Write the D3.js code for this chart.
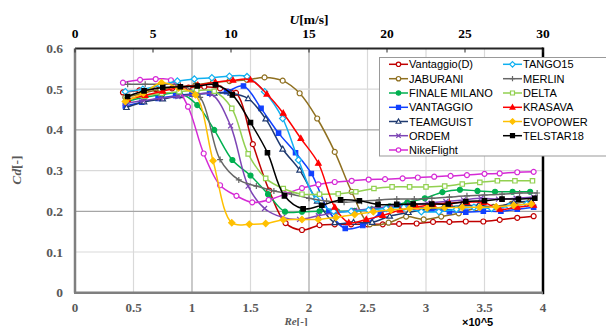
<!DOCTYPE html>
<html><head><meta charset="utf-8">
<script src="https://cdn.jsdelivr.net/npm/d3@7"></script>
<style>html,body{margin:0;padding:0;background:#fff;overflow:hidden}</style>
</head><body>
<svg id="c" width="606" height="326"></svg>
<script>
// ---- data (Re in 1e5, Cd) ----
const seriesNames = ["Vantaggio(D)","JABURANI","FINALE MILANO","VANTAGGIO","TEAMGUIST","ORDEM","NikeFlight","TANGO15","MERLIN","DELTA","KRASAVA","EVOPOWER","TELSTAR18"];
const reTicks = [0,0.5,1,1.5,2,2.5,3,3.5,4];
const cdTicks = [0,0.1,0.2,0.3,0.4,0.5,0.6];
const uTicks = [0,5,10,15,20,25,30];

const vantaggioD_re = [0.41,0.55,0.69,0.83,0.97,1.105,1.24,1.376,1.52,1.66,1.80,1.94,2.09,2.22,2.36,2.50,2.63,2.77,2.92,3.06,3.20,3.34,3.49,3.63,3.78,3.92];
const vantaggioD_cd = [0.492,0.497,0.500,0.502,0.504,0.506,0.502,0.491,0.365,0.251,0.171,0.154,0.166,0.168,0.168,0.168,0.168,0.169,0.170,0.174,0.174,0.175,0.175,0.179,0.184,0.188];

const jaburani_re = [0.43,0.58,0.73,0.88,1.03,1.18,1.32,1.47,1.62,1.775,1.92,2.07,2.22,2.365,2.52,2.68,2.83,2.98,3.13,3.28,3.43,3.575,3.73,3.89];
const jaburani_cd = [0.480,0.490,0.500,0.505,0.510,0.517,0.520,0.523,0.529,0.521,0.490,0.428,0.346,0.248,0.168,0.172,0.187,0.180,0.187,0.195,0.208,0.211,0.218,0.225];

const finale_re = [0.445,0.595,0.745,0.895,1.045,1.19,1.345,1.50,1.65,1.795,1.94,2.09,2.24,2.39,2.54,2.69,2.84,2.99,3.14,3.29,3.44,3.59,3.74,3.89];
const finale_cd = [0.470,0.480,0.487,0.490,0.461,0.400,0.326,0.288,0.242,0.199,0.199,0.200,0.200,0.201,0.205,0.212,0.222,0.232,0.247,0.253,0.250,0.248,0.248,0.248];

const vantaggio_re = [0.43,0.57,0.71,0.86,1.00,1.15,1.295,1.44,1.59,1.74,1.885,2.02,2.17,2.31,2.46,2.61,2.76,2.90,3.05,3.20,3.34,3.49,3.64,3.78,3.92];
const vantaggio_cd = [0.459,0.468,0.477,0.484,0.488,0.490,0.494,0.508,0.453,0.392,0.344,0.293,0.200,0.158,0.165,0.195,0.215,0.213,0.205,0.199,0.198,0.200,0.200,0.205,0.210];

const teamguist_re = [0.44,0.59,0.75,0.90,1.04,1.19,1.33,1.48,1.63,1.775,1.92,2.07,2.22,2.38,2.54,2.69,2.85,3.00,3.15,3.30,3.45,3.60,3.75,3.90];
const teamguist_cd = [0.455,0.469,0.476,0.484,0.488,0.490,0.490,0.477,0.427,0.353,0.301,0.225,0.172,0.173,0.173,0.188,0.197,0.205,0.210,0.213,0.215,0.210,0.222,0.225];

const ordem_re = [0.43,0.58,0.73,0.88,1.02,1.17,1.33,1.48,1.62,1.775,1.92,2.08,2.24,2.39,2.55,2.70,2.86,3.01,3.17,3.32,3.47,3.62,3.77,3.92];
const ordem_cd = [0.465,0.472,0.478,0.482,0.487,0.487,0.410,0.262,0.207,0.185,0.180,0.189,0.197,0.202,0.207,0.212,0.216,0.220,0.224,0.228,0.232,0.230,0.232,0.235];

const nike_re = [0.41,0.556,0.69,0.82,0.966,1.10,1.24,1.38,1.515,1.655,1.795,1.94,2.08,2.22,2.365,2.51,2.65,2.80,2.93,3.07,3.21,3.35,3.50,3.63,3.78,3.92];
const nike_cd = [0.516,0.523,0.525,0.522,0.457,0.342,0.264,0.238,0.222,0.228,0.242,0.257,0.266,0.272,0.275,0.278,0.279,0.281,0.283,0.285,0.287,0.289,0.292,0.293,0.296,0.297];

const tango_re = [0.43,0.58,0.73,0.875,1.02,1.17,1.32,1.47,1.62,1.775,1.91,2.06,2.21,2.36,2.51,2.66,2.81,2.96,3.11,3.26,3.41,3.56,3.71,3.86];
const tango_cd = [0.494,0.500,0.510,0.520,0.525,0.528,0.532,0.531,0.494,0.428,0.326,0.230,0.200,0.200,0.203,0.207,0.210,0.199,0.199,0.205,0.210,0.207,0.212,0.218];

const merlin_re = [0.45,0.60,0.75,0.90,1.07,1.24,1.40,1.55,1.70,1.85,2.00,2.15,2.30,2.45,2.60,2.75,2.90,3.05,3.20,3.35,3.50,3.65,3.80,3.95];
const merlin_cd = [0.512,0.512,0.512,0.510,0.480,0.327,0.277,0.262,0.250,0.242,0.232,0.225,0.222,0.225,0.228,0.230,0.230,0.232,0.235,0.238,0.240,0.242,0.245,0.245];

const delta_re = [0.44,0.59,0.74,0.89,1.04,1.19,1.34,1.48,1.63,1.78,1.94,2.09,2.25,2.40,2.555,2.71,2.86,3.00,3.16,3.31,3.46,3.61,3.76,3.91];
const delta_cd = [0.475,0.483,0.490,0.494,0.497,0.495,0.453,0.341,0.281,0.256,0.242,0.242,0.243,0.248,0.256,0.260,0.260,0.260,0.262,0.267,0.271,0.275,0.275,0.275];

const krasava_re = [0.45,0.60,0.75,0.90,1.05,1.20,1.35,1.50,1.64,1.78,1.93,2.08,2.22,2.34,2.49,2.63,2.78,2.92,3.06,3.20,3.35,3.49,3.63,3.78,3.92];
const krasava_cd = [0.475,0.485,0.495,0.505,0.510,0.517,0.522,0.523,0.488,0.441,0.379,0.318,0.210,0.172,0.180,0.190,0.203,0.211,0.217,0.220,0.222,0.222,0.205,0.210,0.215];

const evopower_re = [0.43,0.585,0.74,0.885,1.03,1.18,1.34,1.49,1.63,1.78,1.94,2.08,2.23,2.39,2.55,2.70,2.86,3.01,3.16,3.31,3.46,3.60,3.75,3.90];
const evopower_cd = [0.470,0.490,0.516,0.503,0.486,0.324,0.172,0.168,0.170,0.179,0.180,0.180,0.185,0.192,0.199,0.203,0.207,0.208,0.209,0.210,0.210,0.211,0.215,0.218];

const telstar_re = [0.45,0.59,0.75,0.90,1.045,1.20,1.345,1.50,1.645,1.79,1.95,2.11,2.27,2.43,2.59,2.75,2.89,3.05,3.19,3.34,3.50,3.65,3.79,3.93];
const telstar_cd = [0.482,0.496,0.504,0.506,0.508,0.511,0.486,0.418,0.344,0.238,0.206,0.215,0.228,0.226,0.217,0.217,0.218,0.218,0.218,0.224,0.226,0.230,0.230,0.232];

// ---- styles ----
const styles = {
 "Vantaggio(D)": {c:"#c00000", m:"circle", f:false},
 "JABURANI": {c:"#8f7020", m:"circle", f:false},
 "FINALE MILANO": {c:"#00b050", m:"circle", f:true},
 "VANTAGGIO": {c:"#1040ff", m:"square", f:true},
 "TEAMGUIST": {c:"#1f3a70", m:"triangle", f:false},
 "ORDEM": {c:"#7d45b5", m:"x", f:false},
 "NikeFlight": {c:"#d52ad5", m:"circle", f:false},
 "TANGO15": {c:"#10b0f0", m:"diamond", f:false},
 "MERLIN": {c:"#666666", m:"plus", f:false},
 "DELTA": {c:"#92d050", m:"square", f:false},
 "KRASAVA": {c:"#ff0000", m:"triangle", f:true},
 "EVOPOWER": {c:"#ffc000", m:"diamond", f:true},
 "TELSTAR18": {c:"#000000", m:"square", f:true}
};
const dataRe = [vantaggioD_re,jaburani_re,finale_re,vantaggio_re,teamguist_re,ordem_re,nike_re,tango_re,merlin_re,delta_re,krasava_re,evopower_re,telstar_re];
const dataCd = [vantaggioD_cd,jaburani_cd,finale_cd,vantaggio_cd,teamguist_cd,ordem_cd,nike_cd,tango_cd,merlin_cd,delta_cd,krasava_cd,evopower_cd,telstar_cd];
const series = seriesNames.map((n,i)=>({name:n, pts: dataRe[i].map((r,j)=>[r, dataCd[i][j]]), ...styles[n]}));

const svg = d3.select("#c");
const L=75, R=543, T=48.5, B=292.7;
const x = d3.scaleLinear().domain([0,4]).range([L,R]);
const y = d3.scaleLinear().domain([0,0.6]).range([B,T]);
const u = d3.scaleLinear().domain([0,30]).range([L,R]);

svg.append("rect").attr("width",606).attr("height",326).attr("fill","#fff");

// gridlines
const g = svg.append("g");
d3.range(0.5,4,0.5).forEach(v=>{
  const dark = (v===1||v===2);
  g.append("line").attr("x1",x(v)).attr("x2",x(v)).attr("y1",T).attr("y2",B)
   .attr("stroke", dark?"#a6a6a6":"#d9d9d9").attr("stroke-width",1.2);
});
[0.1,0.2,0.3,0.4,0.5].forEach(v=>{
  const dark = (Math.abs(v-0.2)<1e-9||Math.abs(v-0.4)<1e-9);
  g.append("line").attr("x1",L).attr("x2",R).attr("y1",y(v)).attr("y2",y(v))
   .attr("stroke", dark?"#a6a6a6":"#d9d9d9").attr("stroke-width",1.2);
});

// symbols
function symPath(m, s){
  const p = d3.path();
  if(m==="circle"){ p.arc(0,0,s,0,2*Math.PI); }
  else if(m==="square"){ p.rect(-s,-s,2*s,2*s); }
  else if(m==="triangle"){ p.moveTo(0,-s*1.15); p.lineTo(s*1.1,s*0.8); p.lineTo(-s*1.1,s*0.8); p.closePath(); }
  else if(m==="diamond"){ p.moveTo(0,-s*1.25); p.lineTo(s*1.25,0); p.lineTo(0,s*1.25); p.lineTo(-s*1.25,0); p.closePath(); }
  else if(m==="x"){ p.moveTo(-s,-s); p.lineTo(s,s); p.moveTo(s,-s); p.lineTo(-s,s); }
  else if(m==="plus"){ p.moveTo(-s*1.2,0); p.lineTo(s*1.2,0); p.moveTo(0,-s*1.2); p.lineTo(0,s*1.2); }
  return p.toString();
}
function drawMarker(sel, s, cx, cy, r){
  sel.append("path").attr("d", symPath(s.m, r)).attr("transform",`translate(${cx},${cy})`)
    .attr("fill", (s.m==="x"||s.m==="plus")?"none":(s.f?s.c:"#fff"))
    .attr("stroke", s.c).attr("stroke-width", 1.2);
}

const line = d3.line().x(d=>x(d[0])).y(d=>y(d[1])).curve(d3.curveCatmullRom.alpha(0.5));
const plot = svg.append("g");
series.forEach(s=>{
  const gg = plot.append("g");
  gg.append("path").attr("d", line(s.pts)).attr("fill","none").attr("stroke",s.c).attr("stroke-width",1.5);
  s.pts.forEach(d=>drawMarker(gg, s, x(d[0]), y(d[1]), s.m==="square"?2.2:2.5));
});

// axes frame
svg.append("line").attr("x1",L).attr("x2",R).attr("y1",T).attr("y2",T).attr("stroke","#262626").attr("stroke-width",2);
svg.append("line").attr("x1",R).attr("x2",R).attr("y1",T-1).attr("y2",B+1.5).attr("stroke","#000").attr("stroke-width",2.5);
svg.append("line").attr("x1",L).attr("x2",L).attr("y1",T).attr("y2",B).attr("stroke","#7f7f7f").attr("stroke-width",2.5);
svg.append("line").attr("x1",L-1).attr("x2",R).attr("y1",B).attr("y2",B).attr("stroke","#7f7f7f").attr("stroke-width",2.5);
// top ticks (inward)
uTicks.forEach(v=>{
  svg.append("line").attr("x1",u(v)).attr("x2",u(v)).attr("y1",T).attr("y2",T+4).attr("stroke","#262626").attr("stroke-width",1);
});

const serif = "'Liberation Serif','Times New Roman',serif";
// tick labels
cdTicks.forEach(v=>{
  svg.append("text").attr("x",63).attr("y",y(v)+4.5).attr("text-anchor","end")
   .attr("font-family",serif).attr("font-weight","bold").attr("font-size",13.5).attr("fill","#595959")
   .text(String(+v.toFixed(1)));
});
reTicks.forEach(v=>{
  svg.append("text").attr("x",x(v)).attr("y",312).attr("text-anchor","middle")
   .attr("font-family",serif).attr("font-weight","bold").attr("font-size",13).attr("fill","#595959")
   .text(String(v));
});
uTicks.forEach(v=>{
  svg.append("text").attr("x",u(v)).attr("y",38).attr("text-anchor","middle")
   .attr("font-family",serif).attr("font-weight","bold").attr("font-size",13.5).attr("fill","#000")
   .text(String(v));
});

// axis titles
const ut = svg.append("text").attr("x",309).attr("y",23.5).attr("text-anchor","middle")
  .attr("font-family",serif).attr("font-weight","bold").attr("font-size",13.5).attr("fill","#000");
ut.append("tspan").attr("font-style","italic").text("U");
ut.append("tspan").text("[m/s]");

const rt = svg.append("text").attr("x",296).attr("y",325).attr("text-anchor","middle")
  .attr("font-family",serif).attr("font-weight","bold").attr("font-size",11).attr("fill","#595959");
rt.append("tspan").attr("font-style","italic").text("Re");
rt.append("tspan").text("[-]");

const ct = svg.append("text").attr("transform","translate(21,170) rotate(-90)").attr("text-anchor","middle")
  .attr("font-family",serif).attr("font-weight","bold").attr("font-size",13.5).attr("fill","#595959");
ct.append("tspan").attr("font-style","italic").text("Cd");
ct.append("tspan").text("[-]");

svg.append("text").attr("x",462).attr("y",325.5).attr("font-family","'Liberation Sans',Arial,sans-serif")
  .attr("font-weight","bold").attr("font-size",11).attr("fill","#000").text("×10^5");

// legend
const lg = svg.append("g");
lg.append("rect").attr("x",379.5).attr("y",57.5).attr("width",240).attr("height",98.5)
  .attr("fill","#fff").attr("stroke","#999").attr("stroke-width",1);
const rowsY = [64.3,78.7,93,107.3,121.5,135.7,150];
series.forEach((s,i)=>{
  const col = i<7?0:1, row = i<7?i:i-7;
  const lx = col===0?389:503, yy = rowsY[row];
  lg.append("line").attr("x1",lx).attr("x2",lx+19).attr("y1",yy).attr("y2",yy).attr("stroke",s.c).attr("stroke-width",1.5);
  drawMarker(lg, s, lx+9.5, yy, s.m==="square"?2:2.2);
  lg.append("text").attr("x",lx+20).attr("y",yy+4).attr("font-family","'Liberation Sans',Arial,sans-serif")
    .attr("font-size",11).attr("fill","#000").text(s.name);
});
</script>
</body></html>
